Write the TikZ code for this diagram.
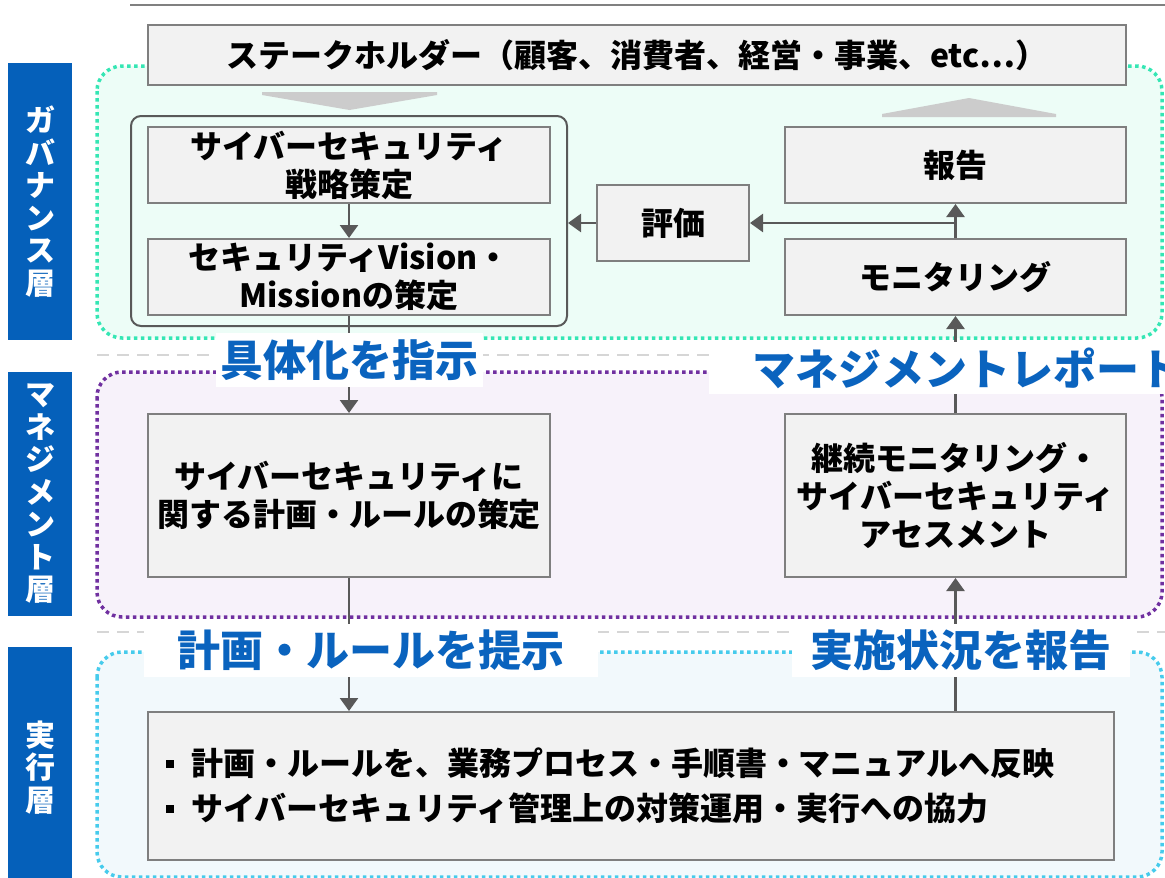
\documentclass[tikz,border=0pt]{standalone}
\usepackage{fontspec}
\setmainfont{Noto Sans CJK JP}
\usetikzlibrary{arrows.meta,fit}
\definecolor{boxfill}{HTML}{F2F2F2}
\definecolor{boxborder}{HTML}{7F7F7F}
\definecolor{arrowgray}{HTML}{595959}
\definecolor{lblblue}{HTML}{0A63BE}
\definecolor{sideblue}{HTML}{0560BA}
\definecolor{govfill}{HTML}{EDFDF7}
\definecolor{govline}{HTML}{35E6B4}
\definecolor{mgmtfill}{HTML}{F7F2FA}
\definecolor{mgmtline}{HTML}{7030A0}
\definecolor{execfill}{HTML}{F2F9FC}
\definecolor{execline}{HTML}{46CBEC}
\definecolor{sepgray}{HTML}{D6D6D6}
\definecolor{biggray}{HTML}{CCCCCC}
\definecolor{topline}{HTML}{808080}
\newcommand{\sqbullet}{\raisebox{8pt}{\rule{8pt}{8pt}}\hspace{17pt}}
\tikzset{
  box/.style={draw=boxborder, fill=boxfill, line width=2pt, inner sep=0pt, align=center,
    font=\bfseries\fontsize{32}{38}\selectfont},
  lbl/.style={fill=white, text=lblblue, inner sep=0pt, font=\bfseries\fontsize{43}{48}\selectfont},
  side/.style={fill=sideblue, text=white, inner sep=0pt, align=center, minimum width=64pt,
    font=\bfseries\fontsize{30}{32.5}\selectfont},
  region/.style={rounded corners=25pt, line width=3.5pt, dash pattern=on 3.5pt off 3.5pt},
  arr/.style={draw=arrowgray, line width=2.5pt, -{Triangle[width=18pt,length=13pt]}},
  sep/.style={draw=sepgray, line width=2.5pt, dash pattern=on 12pt off 8pt},
  grpbox/.style={draw=arrowgray, line width=2pt, rounded corners=10pt, inner xsep=16pt, inner ysep=10pt},
  bigarrow/.style={fill=biggray, draw=none}
}
\begin{document}
\begin{tikzpicture}[x=1pt,y=-1pt]
\useasboundingbox (0,0) rectangle (1165,878);
% top rule
\draw[topline, line width=2.5pt] (130,5) -- (1165,5);
% layer regions
\path[region, fill=govfill, draw=govline] (97,66) rectangle (1162,338);
\path[region, fill=mgmtfill, draw=mgmtline] (97,372) rectangle (1162,617);
\path[region, fill=execfill, draw=execline] (97,652) rectangle (1162,877);
% separators
\draw[sep] (97,355) -- (1165,355);
\draw[sep] (97,632) -- (1165,632);
% side labels
\node[side, minimum height=277pt] (sgov) at (40,201.5) {ガ\\バ\\ナ\\ン\\ス\\層};
\node[side, minimum height=244pt] (smgmt) at (40,494) {マ\\ネ\\ジ\\メ\\ン\\ト\\層};
\node[side, minimum height=241pt] (sexec) at (40,767.5) {実\\行\\層};
% stakeholder
\node[box, minimum width=978pt, minimum height=60pt] (stake) at (637,55)
  {ステークホルダー（顧客、消費者、経営・事業、etc…）};
% big gray arrows
\path[bigarrow] (262,92) -- (437,92) -- (437,95) -- (349.5,110) -- (262,95) -- cycle;
\path[bigarrow] (882,117) -- (1056,117) -- (1056,114) -- (969,98) -- (882,114) -- cycle;
% governance boxes
\node[box, minimum width=402pt, minimum height=76pt] (strat) at (349,165) {サイバーセキュリティ\\戦略策定};
\node[box, minimum width=402pt, minimum height=76pt] (vision) at (349,277) {セキュリティVision・\\Missionの策定};
\node[grpbox, fit=(strat)(vision)] (grp) {};
\node[box, minimum width=152pt, minimum height=76pt] (hyoka) at (673,223) {評価};
\node[box, minimum width=341pt, minimum height=76pt] (hokoku) at (955.5,165) {報告};
\node[box, minimum width=341pt, minimum height=76pt] (monitor) at (955.5,277) {モニタリング};
% management boxes
\node[box, minimum width=402pt, minimum height=163pt] (plan) at (349,495.5)
  {サイバーセキュリティに\\関する計画・ルールの策定};
\node[box, minimum width=341pt, minimum height=163pt] (assess) at (955.5,495.5)
  {継続モニタリング・\\サイバーセキュリティ\\アセスメント};
% execution box
\node[box, align=left, text width=930pt, inner xsep=18pt, minimum height=148pt,
  font=\bfseries\fontsize{32}{45}\selectfont] (exec) at (631,786)
  {\sqbullet 計画・ルールを、業務プロセス・手順書・マニュアルへ反映\\
   \sqbullet サイバーセキュリティ管理上の対策運用・実行への協力};
% connectors
\draw[arr] (strat.south) -- (vision.north);
\coordinate (j) at (monitor.north |- hyoka.east);
\draw[arr] (monitor.north) -- (hokoku.south);
\draw[arr] (j) -- (hyoka.east);
\draw[arr] (hyoka.west) -- (hyoka.west -| grp.east);
\draw[arr] (vision.south) -- (plan.north);
\draw[arr] (plan.south) -- (plan.south |- exec.north);
\draw[arr] (exec.north -| assess.south) -- (assess.south);
\draw[arr] (assess.north) -- (monitor.south);
% flow labels
\node[lbl, minimum width=267pt, minimum height=54pt] (l1) at (349.5,360) {具体化を指示};
\node[lbl, anchor=west, inner xsep=43pt, minimum height=52pt] (l2) at (709,368) {マネジメントレポート};
\node[lbl, minimum width=454pt, minimum height=53pt] (l3) at (371,650.5) {計画・ルールを提示};
\node[lbl, minimum width=338pt, minimum height=53pt] (l4) at (961,650.5) {実施状況を報告};
\end{tikzpicture}
\end{document}
